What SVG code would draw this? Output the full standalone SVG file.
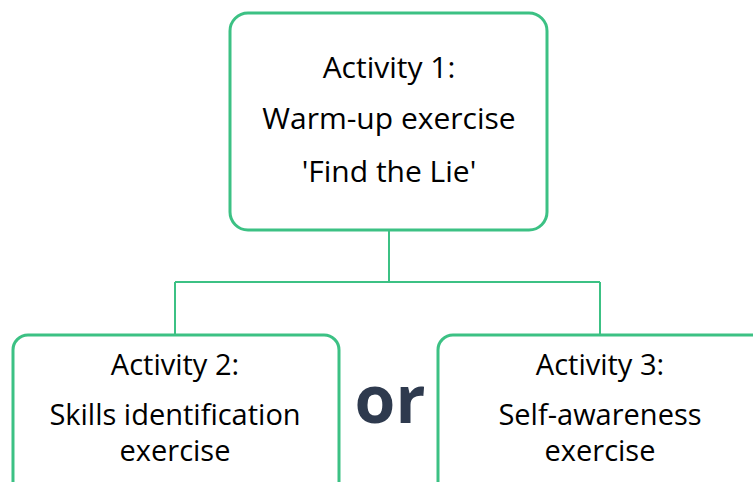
<svg xmlns="http://www.w3.org/2000/svg" width="753" height="482" viewBox="0 0 753 482">
<style>
.box{fill:#fff;stroke:#3cc184;stroke-width:3}
.conn{fill:none;stroke:#3cc184;stroke-width:2}
.t{font-family:"Open Sans","Liberation Sans",sans-serif;font-size:29px;fill:#000;text-anchor:middle}
.big{font-size:30px}
.or{font-family:"Open Sans","Liberation Sans",sans-serif;font-size:66px;font-weight:bold;fill:#2e3a4e;text-anchor:middle}
</style>
<rect width="753" height="482" fill="#fff"/>
<g id="connectors">
<path class="conn" d="M389 230V282M175 282H600M175 282V335M600 282V335"/>
</g>
<g id="node1">
<rect class="box" x="230" y="13" width="317" height="217" rx="18"/>
<text class="t big" x="389" y="78">Activity 1:</text>
<text class="t big" x="389" y="129">Warm-up exercise</text>
<text class="t big" x="389" y="182">'Find the Lie'</text>
</g>
<g id="node2">
<rect class="box" x="13" y="335" width="326" height="170" rx="15"/>
<text class="t" x="175" y="375">Activity 2:</text>
<text class="t" x="175" y="425">Skills identification</text>
<text class="t" x="175" y="461">exercise</text>
</g>
<g id="node3">
<rect class="box" x="438" y="335" width="340" height="170" rx="15"/>
<text class="t" x="600" y="375">Activity 3:</text>
<text class="t" x="600" y="425">Self-awareness</text>
<text class="t" x="600" y="461">exercise</text>
</g>
<text class="or" x="390" y="423">or</text>
</svg>
